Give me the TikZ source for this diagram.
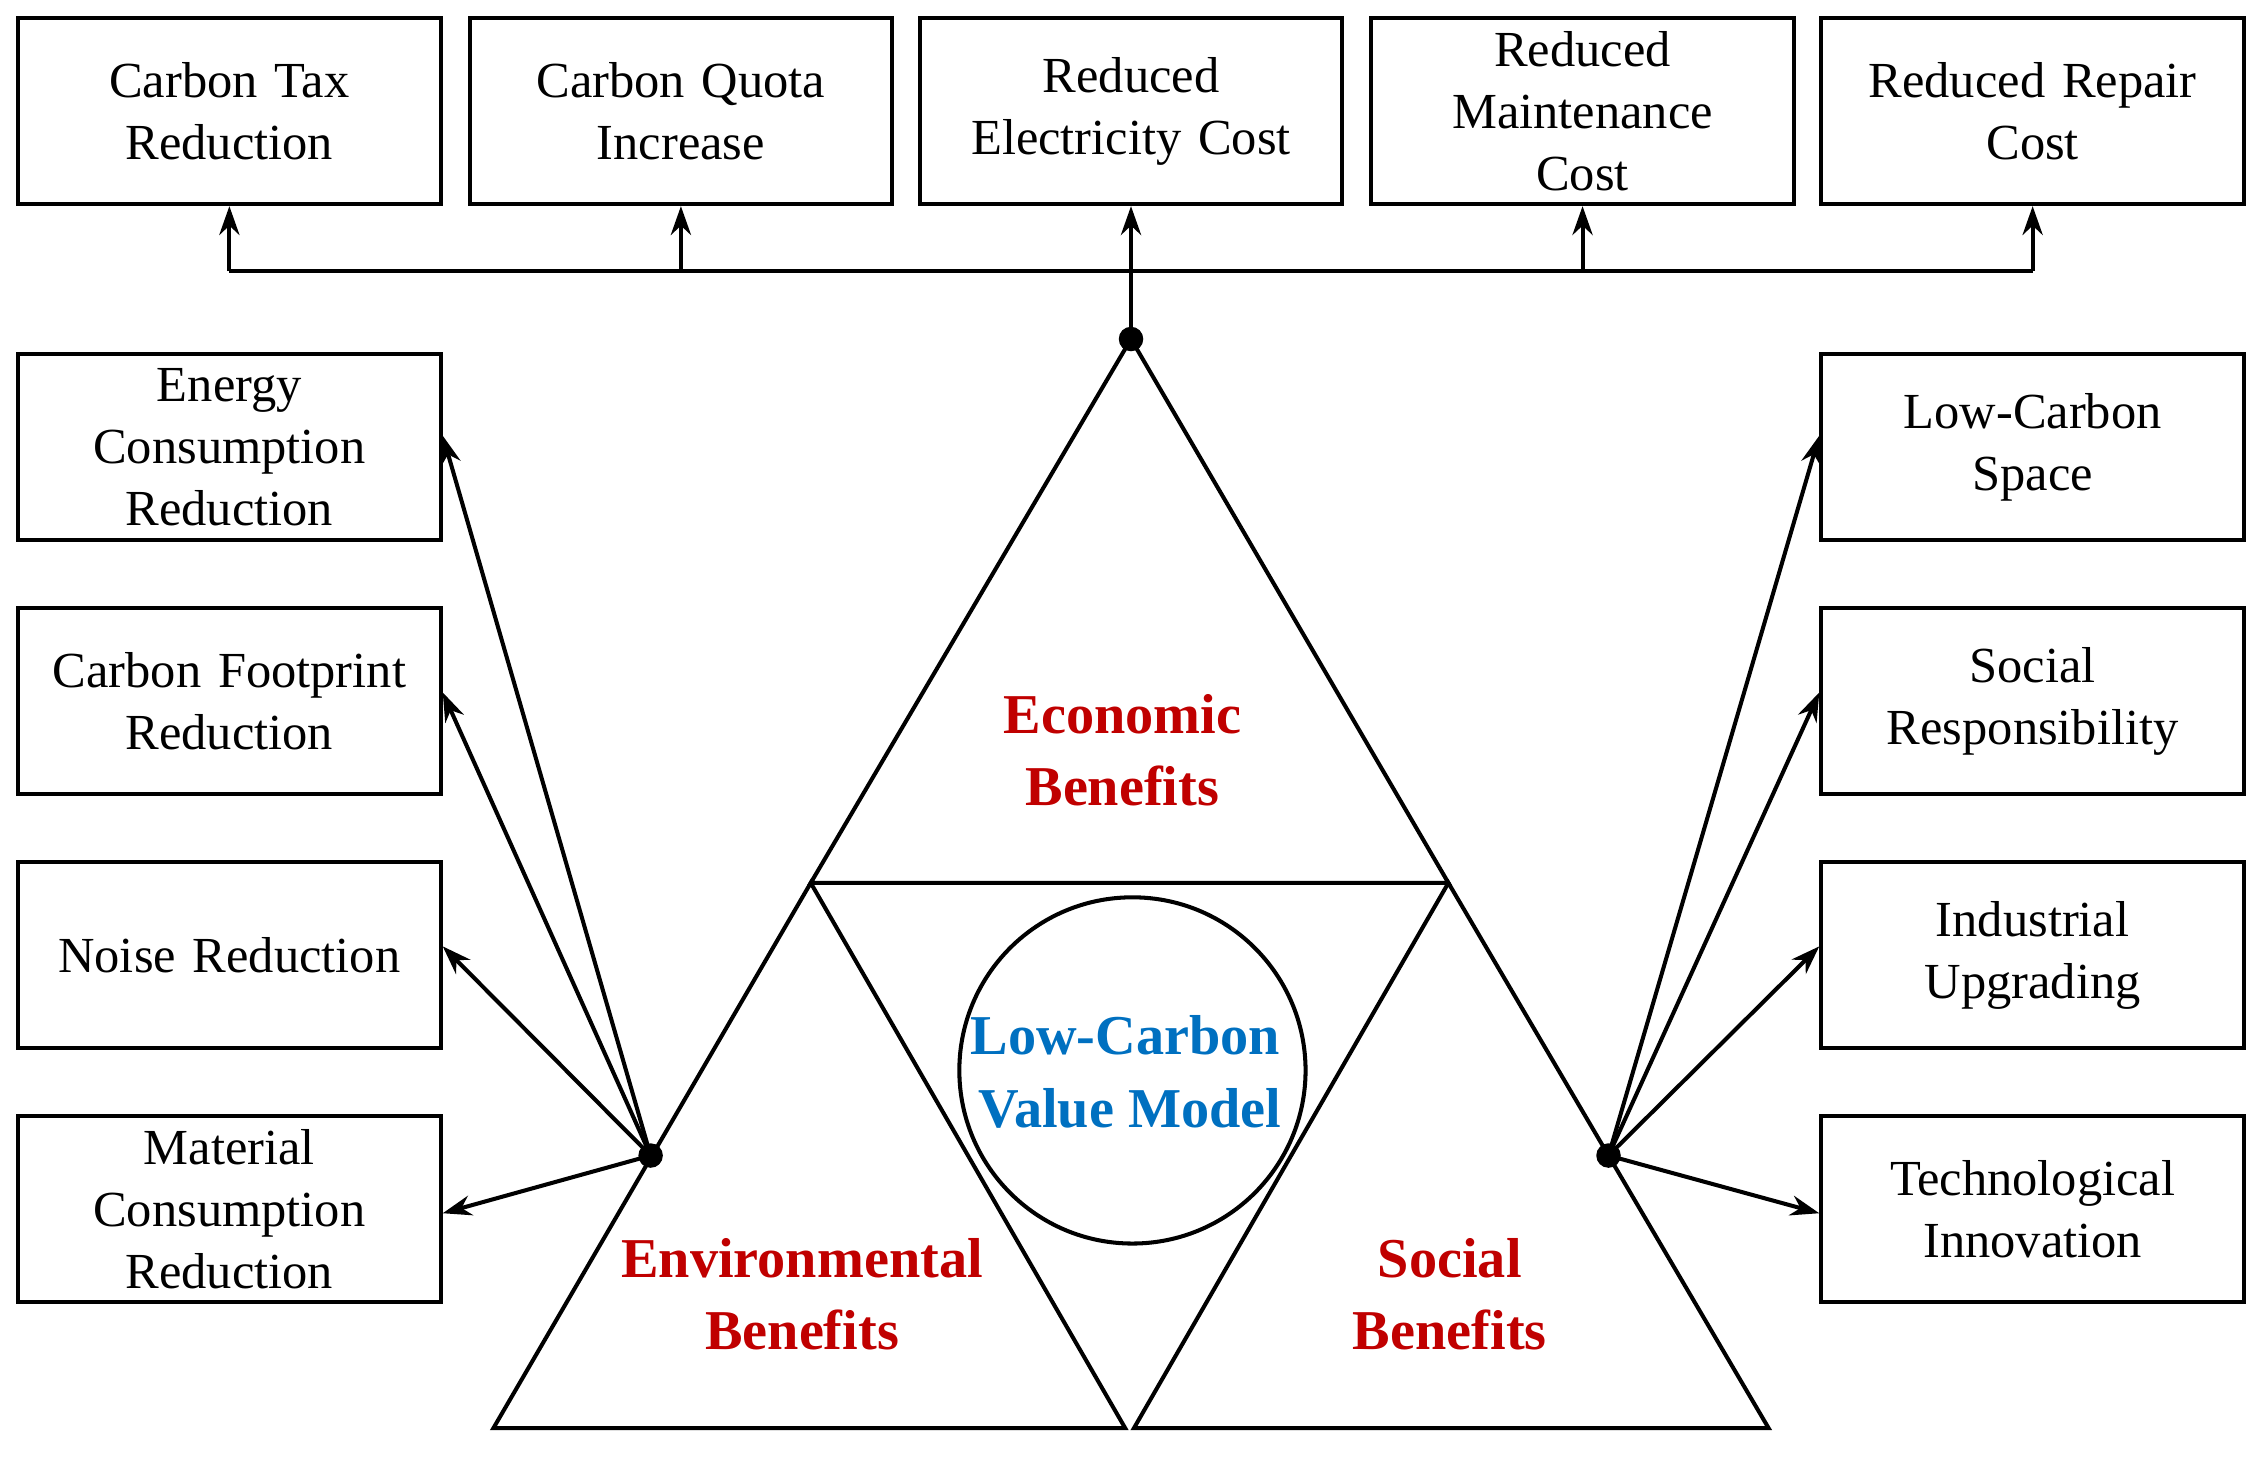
\documentclass[tikz,border=0pt]{standalone}
\usepackage{fontspec}
\setmainfont{Liberation Serif}
\usetikzlibrary{arrows.meta}
\definecolor{myred}{RGB}{192,0,0}
\definecolor{myblue}{RGB}{0,112,192}
\begin{document}
\begin{tikzpicture}[x=1pt,y=-1pt,
  box/.style={draw,line width=2.8pt,minimum width=293pt,minimum height=129pt,inner sep=0pt,text width=290pt,align=center,font=\fontsize{35}{43}\selectfont},
  ln/.style={line width=2.8pt},
  arr/.style={ln,-{Stealth[length=20pt,width=14pt]}},
  dot/.style={circle,fill,inner sep=0pt,minimum size=17pt},
  lab/.style={font=\fontsize{39}{50}\selectfont\bfseries,align=center}]
\useasboundingbox (0,0) rectangle (1568,1010);
% top boxes
\node[box] (t1) at (159,77) {Carbon Tax\\Reduction};
\node[box] (t2) at (472,77) {Carbon Quota\\Increase};
\node[box] (t3) at (784,77) {Reduced\\Electricity Cost};
\node[box] (t4) at (1097,77) {Reduced\\Maintenance\\Cost};
\node[box] (t5) at (1409,77) {Reduced Repair\\Cost};
% left boxes
\node[box] (l1) at (159,310) {Energy\\Consumption\\Reduction};
\node[box] (l2) at (159,486) {Carbon Footprint\\Reduction};
\node[box] (l3) at (159,662) {Noise Reduction};
\node[box] (l4) at (159,838) {Material\\Consumption\\Reduction};
% right boxes
\node[box] (r1) at (1409,310) {Low-Carbon\\Space};
\node[box] (r2) at (1409,486) {Social\\Responsibility};
\node[box] (r3) at (1409,662) {Industrial\\Upgrading};
\node[box] (r4) at (1409,838) {Technological\\Innovation};
% triangles
\coordinate (A) at (784,235);
\coordinate (B) at (562,612);
\coordinate (C) at (1004,612);
\coordinate (D) at (342,990);
\coordinate (E) at (780,990);
\coordinate (F) at (786,990);
\coordinate (G) at (1226,990);
\draw[ln] (A) -- (B) -- (C) -- cycle;
\draw[ln] (B) -- (D) -- (E) -- cycle;
\draw[ln] (C) -- (F) -- (G) -- cycle;
\node[draw,circle,ln,minimum size=240pt] (c) at (785,742) {};
\node[lab,text=myblue] (m) at (780,743) {Low-Carbon\\\,Value Model};
\node[lab,text=myred] (eb) at (778,520) {Economic\\Benefits};
\node[lab,text=myred] (en) at (556,897) {Environmental\\Benefits};
\node[lab,text=myred] (sb) at (1005,897) {Social\\Benefits};
% dots
\node[dot] (dt) at (A) {};
\node[dot] (dl) at (451,801) {};
\node[dot] (dr) at (1115,801) {};
% top bus
\coordinate (bus) at (784,188);
\draw[arr] (dt.center) -- (t3.south);
\draw[ln] (t1.south |- bus) -- (t5.south |- bus);
\foreach \t in {t1,t2,t4,t5} \draw[arr] (\t.south |- bus) -- (\t.south);
% left arrows
\draw[arr] (dl.center) -- ([yshift=8pt]l1.east);
\draw[arr] (dl.center) -- ([yshift=6pt]l2.east);
\draw[arr] (dl.center) -- ([yshift=6pt]l3.east);
\draw[arr] (dl.center) -- ([yshift=-3pt]l4.east);
% right arrows
\draw[arr] (dr.center) -- ([yshift=8pt]r1.west);
\draw[arr] (dr.center) -- ([yshift=6pt]r2.west);
\draw[arr] (dr.center) -- ([yshift=6pt]r3.west);
\draw[arr] (dr.center) -- ([yshift=-3pt]r4.west);
\end{tikzpicture}
\end{document}
